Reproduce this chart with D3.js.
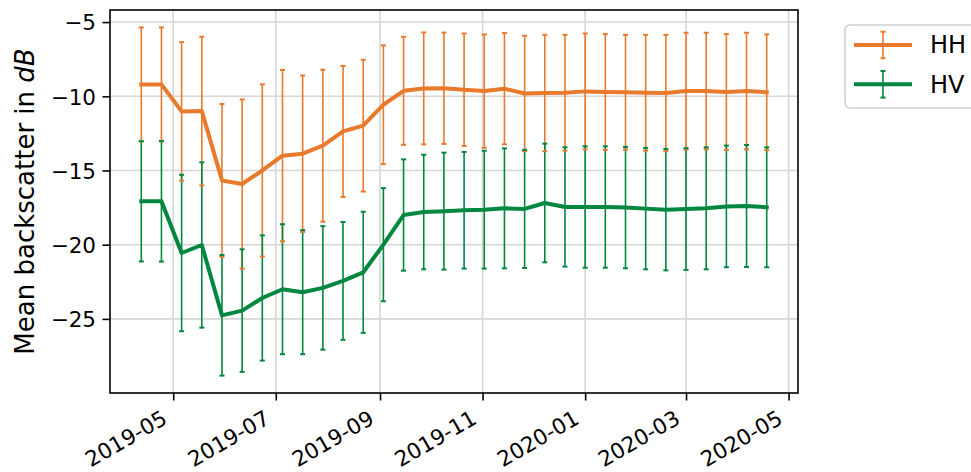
<!DOCTYPE html>
<html>
<head>
<meta charset="utf-8">
<script src="https://cdn.jsdelivr.net/npm/d3@7"></script>
<style>
  html, body { margin: 0; padding: 0; background: #fff; }
  svg { display: block; font-family: "DejaVu Sans", sans-serif; }
</style>
</head>
<body>
<svg id="chart" width="971" height="472"></svg>
<script>
// Acquisition dates (12-day revisit)
const dates = [
  "2019-04-12","2019-04-24","2019-05-06","2019-05-18","2019-05-30","2019-06-11",
  "2019-06-23","2019-07-05","2019-07-17","2019-07-29","2019-08-10","2019-08-22",
  "2019-09-03","2019-09-15","2019-09-27","2019-10-09","2019-10-21","2019-11-02",
  "2019-11-14","2019-11-26","2019-12-08","2019-12-20","2020-01-01","2020-01-13",
  "2020-01-25","2020-02-06","2020-02-18","2020-03-01","2020-03-13","2020-03-25",
  "2020-04-06","2020-04-18"
];

// Mean backscatter (dB) and standard deviation per polarisation
const hhMean = [-9.20,-9.20,-11.02,-11.00,-15.67,-15.91,-15.00,-14.00,-13.87,-13.33,-12.37,-11.98,
                -10.57,-9.63,-9.47,-9.46,-9.56,-9.65,-9.49,-9.81,-9.78,-9.76,-9.67,-9.71,
                -9.73,-9.76,-9.78,-9.65,-9.65,-9.71,-9.65,-9.73];
const hhStd  = [3.84,3.84,4.67,5.01,5.15,5.70,5.80,5.77,5.27,5.12,4.41,4.44,
                4.00,3.64,3.77,3.75,3.79,3.82,3.75,3.89,3.92,3.90,3.90,3.90,
                3.87,3.90,3.92,3.93,3.93,3.90,3.93,3.90];
const hvMean = [-17.08,-17.08,-20.56,-20.02,-24.76,-24.44,-23.59,-23.00,-23.20,-22.91,-22.44,-21.86,
                -20.00,-18.00,-17.80,-17.74,-17.68,-17.64,-17.55,-17.59,-17.19,-17.46,-17.46,-17.46,
                -17.50,-17.57,-17.64,-17.60,-17.55,-17.42,-17.39,-17.48];
const hvStd  = [4.05,4.06,5.27,5.57,4.06,4.13,4.22,4.38,4.18,4.16,3.97,4.08,
                3.81,3.75,3.86,3.94,3.93,3.97,4.04,3.98,4.00,4.02,4.09,4.09,
                4.09,4.09,4.09,4.10,4.11,4.10,4.11,4.04];

const yTicks = [-25, -20, -15, -10, -5];
const xTicks = ["2019-05-01","2019-07-01","2019-09-01","2019-11-01","2020-01-01","2020-03-01","2020-05-01"];

const series = [
  { name: "HH", mean: hhMean, std: hhStd, color: "#e97a2c" },
  { name: "HV", mean: hvMean, std: hvStd, color: "#00873f" }
];

const parse = d3.utcParse("%Y-%m-%d");
const fmt = d3.utcFormat("%Y-%m");
const xs = dates.map(parse);

const M = { left: 110, top: 10, right: 798, bottom: 393 };
const svg = d3.select("#chart");

// Domains padded by 5% on each side
const xExt = d3.extent(xs);
const xPad = (xExt[1] - xExt[0]) * 0.05;
const x = d3.scaleUtc()
  .domain([new Date(+xExt[0] - xPad), new Date(+xExt[1] + xPad)])
  .range([M.left, M.right]);

const lows = series.flatMap(s => s.mean.map((m, i) => m - s.std[i]));
const highs = series.flatMap(s => s.mean.map((m, i) => m + s.std[i]));
const yLo = d3.min(lows), yHi = d3.max(highs);
const yPad = (yHi - yLo) * 0.05;
const y = d3.scaleLinear().domain([yLo - yPad, yHi + yPad]).range([M.bottom, M.top]);

const tickFont = 21.5;
const gridColor = "#d6d6d6";

// Grid
const grid = svg.append("g");
grid.selectAll("line.gx").data(xTicks.map(parse)).join("line")
  .attr("x1", d => x(d)).attr("x2", d => x(d))
  .attr("y1", M.top).attr("y2", M.bottom)
  .attr("stroke", gridColor).attr("stroke-width", 1.6);
grid.selectAll("line.gy").data(yTicks).join("line")
  .attr("x1", M.left).attr("x2", M.right)
  .attr("y1", d => y(d)).attr("y2", d => y(d))
  .attr("stroke", gridColor).attr("stroke-width", 1.6);

// Clip plotting area
svg.append("defs").append("clipPath").attr("id", "plotclip")
  .append("rect").attr("x", M.left).attr("y", M.top)
  .attr("width", M.right - M.left).attr("height", M.bottom - M.top);
const plot = svg.append("g").attr("clip-path", "url(#plotclip)");

const capW = 5;
// Error bars
series.forEach(s => {
  plot.append("g").selectAll("line").data(s.mean).join("line")
    .attr("x1", (d, i) => x(xs[i])).attr("x2", (d, i) => x(xs[i]))
    .attr("y1", (d, i) => y(d + s.std[i])).attr("y2", (d, i) => y(d - s.std[i]))
    .attr("stroke", s.color).attr("stroke-width", 1.6);
});
// Mean lines and caps
const line = d3.line().x((d, i) => x(xs[i])).y(d => y(d));
series.forEach(s => {
  plot.append("path").datum(s.mean)
    .attr("d", line).attr("fill", "none")
    .attr("stroke", s.color).attr("stroke-width", 4)
    .attr("stroke-linejoin", "round").attr("stroke-linecap", "square");
  const caps = plot.append("g");
  s.mean.forEach((m, i) => {
    [m + s.std[i], m - s.std[i]].forEach(v => {
      caps.append("line")
        .attr("x1", x(xs[i]) - capW / 2).attr("x2", x(xs[i]) + capW / 2)
        .attr("y1", y(v)).attr("y2", y(v))
        .attr("stroke", s.color).attr("stroke-width", 2);
    });
  });
});

// Spines
svg.append("rect")
  .attr("x", M.left).attr("y", M.top)
  .attr("width", M.right - M.left).attr("height", M.bottom - M.top)
  .attr("fill", "none").attr("stroke", "#000").attr("stroke-width", 1.6);

// Y axis
const yAxis = svg.append("g").attr("transform", `translate(${M.left},0)`)
  .call(d3.axisLeft(y).tickValues(yTicks).tickSize(7.5).tickPadding(6.5)
    .tickFormat(d => d3.format("d")(d).replace("-", "\u2212")));
yAxis.select(".domain").remove();
yAxis.selectAll(".tick line").attr("stroke", "#000").attr("stroke-width", 1.6);
yAxis.selectAll(".tick text").attr("font-size", tickFont).attr("fill", "#000")
  .attr("font-family", "DejaVu Sans").attr("dy", "0.36em");

// X axis with rotated labels
const xAxis = svg.append("g").attr("transform", `translate(0,${M.bottom})`)
  .call(d3.axisBottom(x).tickValues(xTicks.map(parse)).tickSize(7.5).tickFormat(fmt));
xAxis.select(".domain").remove();
xAxis.selectAll(".tick line").attr("stroke", "#000").attr("stroke-width", 1.6);
const asc = 0.76 * tickFont, desc = 0.236 * tickFont;
const labelTop = 15.5;
xAxis.selectAll(".tick text")
  .attr("font-size", tickFont).attr("fill", "#000").attr("font-family", "DejaVu Sans")
  .attr("text-anchor", "end").attr("dy", null).attr("y", null)
  .attr("transform", `translate(${-0.5 * desc - 2.5},${labelTop + 0.866 * asc}) rotate(-30)`);

// Y label
const yl = svg.append("text")
  .attr("transform", `translate(33.5,${(M.top + M.bottom) / 2}) rotate(-90)`)
  .attr("text-anchor", "middle").attr("font-size", 26).attr("fill", "#000");
yl.append("tspan").text("Mean backscatter in ");
yl.append("tspan").attr("font-style", "italic").text("dB");

// Legend
const lg = svg.append("g");
lg.append("rect").attr("x", 845).attr("y", 25).attr("width", 140).attr("height", 83)
  .attr("rx", 5).attr("fill", "#fff").attr("fill-opacity", 0.8)
  .attr("stroke", "#d0d0d0").attr("stroke-width", 1.6);
series.forEach((s, i) => {
  const cy = 45 + i * 39.3;
  const g = lg.append("g");
  g.append("line").attr("x1", 854).attr("x2", 912).attr("y1", cy).attr("y2", cy)
    .attr("stroke", s.color).attr("stroke-width", 4);
  g.append("line").attr("x1", 883).attr("x2", 883).attr("y1", cy - 13.3).attr("y2", cy + 13.3)
    .attr("stroke", s.color).attr("stroke-width", 1.6);
  [cy - 13.3, cy + 13.3].forEach(v => g.append("line")
    .attr("x1", 883 - capW / 2).attr("x2", 883 + capW / 2).attr("y1", v).attr("y2", v)
    .attr("stroke", s.color).attr("stroke-width", 2));
  g.append("text").attr("x", 930).attr("y", cy + 8.2)
    .attr("font-size", 24).attr("fill", "#000").text(s.name);
});
</script>
</body>
</html>
